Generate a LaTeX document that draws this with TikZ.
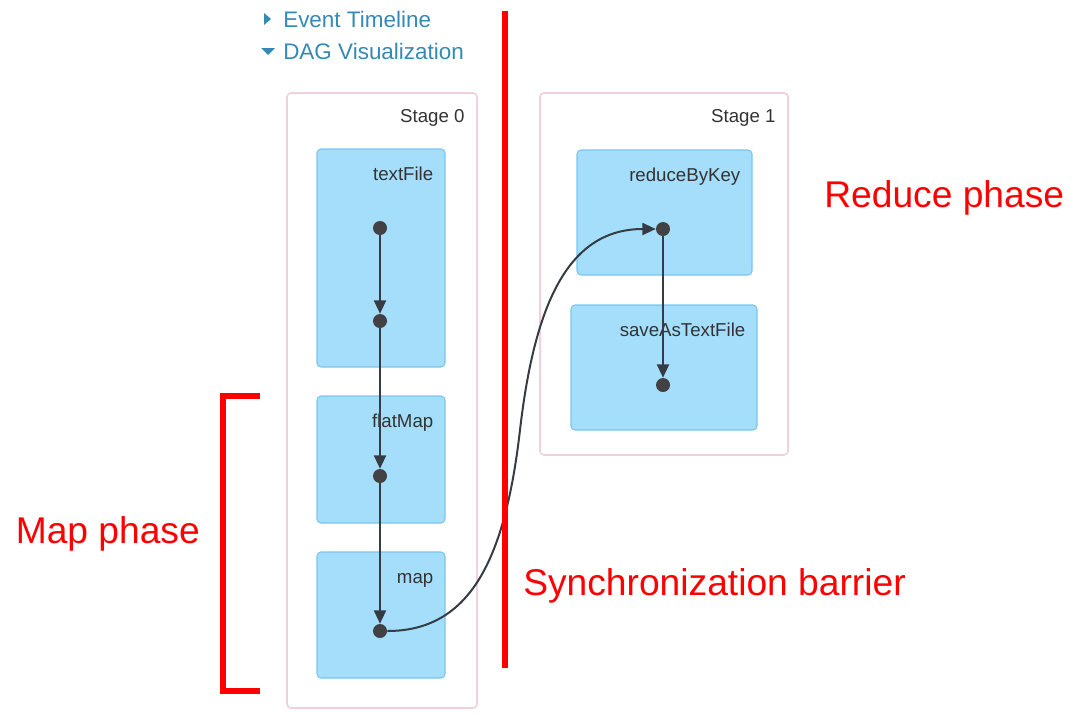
\documentclass[tikz,border=0pt]{standalone}
\usepackage{fontspec}
\setmainfont{Liberation Sans}
\usetikzlibrary{arrows.meta, calc}
\definecolor{linkblue}{RGB}{52,138,180}
\definecolor{opfill}{RGB}{164,222,250}
\definecolor{opdraw}{RGB}{124,198,238}
\definecolor{stagedraw}{RGB}{240,208,218}
\definecolor{edgegray}{RGB}{54,60,68}
\definecolor{dotgray}{RGB}{66,66,68}
\definecolor{labelgray}{RGB}{51,51,51}
\tikzset{
  every node/.style={font=\fontsize{14}{16}\selectfont, text=labelgray},
  stage/.style  = {rectangle, rounded corners=3pt, draw=stagedraw, line width=1.2pt,
                   fill=white, inner sep=0pt},
  op/.style     = {rectangle, rounded corners=3pt, draw=opdraw, line width=0.8pt,
                   fill=opfill, inner sep=0pt},
  opname/.style = {anchor=base east, inner sep=0pt},
  dot/.style    = {circle, fill=dotgray, minimum size=10.5pt, inner sep=0pt},
  flow/.style   = {-{Triangle[length=10pt,width=9pt]}, line width=1.5pt, draw=edgegray},
  link/.style   = {anchor=base west, inner sep=0pt, text=linkblue,
                   font=\fontsize{16.85}{19}\selectfont},
  phase/.style  = {anchor=base west, inner sep=0pt, text=red,
                   font=\fontsize{27.9}{32}\selectfont},
  barrier/.style = {draw=red, line width=4.5pt},
}

\begin{document}
\begin{tikzpicture}[x=0.75pt, y=-0.75pt]
  \useasboundingbox (0,0) rectangle (1077,714);

  % page toggles
  \fill[linkblue] (264,13) -- (271,19) -- (264,25) -- cycle;
  \fill[linkblue] (261,48) -- (275,48) -- (268,55) -- cycle;
  \node[link] (timeline) at (283,27) {Event Timeline};
  \node[link] (dagviz)   at (283,59) {DAG Visualization};

  % stages
  \node[stage, minimum width=142.5pt, minimum height=461.25pt] (stage0) at (382,400.5) {};
  \node[stage, minimum width=186pt,   minimum height=271.5pt]  (stage1) at (664,274) {};
  \node[opname] (stage0-name) at ($(stage0.north east)+(-13,30)$) {Stage 0};
  \node[opname] (stage1-name) at ($(stage1.north east)+(-13,30)$) {Stage 1};

  % operations
  \node[op, minimum width=96pt,     minimum height=163.5pt] (textfile) at (381,258) {};
  \node[op, minimum width=96pt,     minimum height=95.25pt] (flatmap)  at (381,459.5) {};
  \node[op, minimum width=96pt,     minimum height=94.5pt]  (map)      at (381,615) {};
  \node[op, minimum width=131.25pt, minimum height=93.75pt] (reduce)   at (664.5,212.5) {};
  \node[op, minimum width=139.5pt,  minimum height=93.75pt] (save)     at (664,367.5) {};

  \node[opname] (textfile-name) at ($(textfile.north east)+(-12,32)$) {textFile};
  \node[opname] (flatmap-name)  at ($(flatmap.north east)+(-12,32)$)  {flatMap};
  \node[opname] (map-name)      at ($(map.north east)+(-12,32)$)      {map};
  \node[opname] (reduce-name)   at ($(reduce.north east)+(-12,32)$)   {reduceByKey};
  \node[opname] (save-name)     at ($(save.north east)+(-12,32)$)     {saveAsTextFile};

  % RDD dots
  \node[dot] (tf-in)   at (380,228) {};
  \node[dot] (tf-out)  at (380,321) {};
  \node[dot] (fm-out)  at (380,476) {};
  \node[dot] (map-out) at (380,631) {};
  \node[dot] (rbk-out) at (663,229) {};
  \node[dot] (sv-out)  at (663,385) {};

  \draw[flow] (tf-in)  -- (tf-out);
  \draw[flow] (tf-out) -- (fm-out);
  \draw[flow] (fm-out) -- (map-out);
  \draw[flow] (rbk-out) -- (sv-out);
  \draw[flow] (map-out) .. controls (470,631) and (505,560) .. (520,430)
                        .. controls (535,300) and (570,229) .. (rbk-out);

  % annotations
  \coordinate (bar-top) at (505,11);
  \coordinate (bar-bot) at (505,668);
  \draw[barrier] (bar-top) -- (bar-bot);

  \coordinate (brk-top) at (260,396);
  \coordinate (brk-bot) at (260,691);
  \draw[barrier] (brk-top) -- ++(-37,0) |- (brk-bot);

  \node[phase] (reduce-phase) at (824,207)  {Reduce phase};
  \node[phase] (map-phase)    at (15.5,543) {Map phase};
  \node[phase] (sync-barrier) at (523,595)  {Synchronization barrier};
\end{tikzpicture}
\end{document}
